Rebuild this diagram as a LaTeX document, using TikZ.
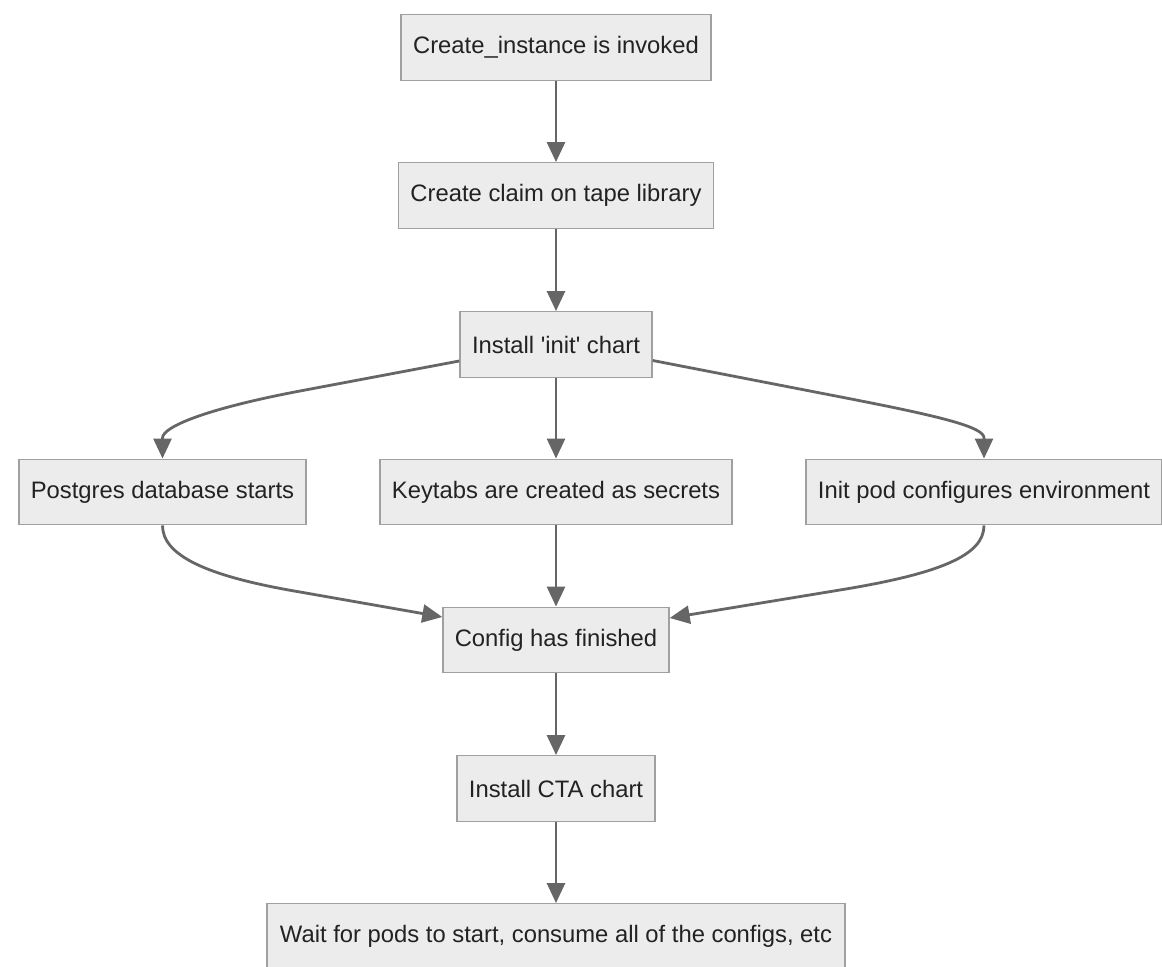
\documentclass[tikz,border=0pt]{standalone}
\usepackage{fontspec}
\setmainfont{Liberation Sans}
\usetikzlibrary{arrows.meta,calc}
\definecolor{boxfill}{HTML}{ECECEC}
\definecolor{boxline}{HTML}{A0A0A0}
\definecolor{edgecol}{HTML}{666666}
\definecolor{txt}{HTML}{222222}
\begin{document}
\begin{tikzpicture}[x=0.5pt,y=-0.5pt,
  box/.style={draw=boxline, line width=0.7pt, fill=boxfill, text=txt,
    font=\fontsize{11.9}{14}\selectfont, minimum height=32.75pt, inner sep=0pt},
  edge/.style={draw=edgecol, line width=1.4pt, -{Triangle[length=10pt,width=9pt]}}]
\useasboundingbox[fill=white] (0,0) rectangle (1162,967);
\node[box, minimum width=155pt]   (n1)   at (556,47.5)  {Create\_instance is invoked};
\node[box, minimum width=157.5pt] (n2)   at (556,195.5) {Create claim on tape library};
\node[box, minimum width=96pt]    (n3)   at (556,344.5) {Install \textquotesingle init\textquotesingle\ chart};
\node[box, minimum width=143.5pt] (pg)   at (162.5,492) {Postgres database starts};
\node[box, minimum width=176pt]   (kt)   at (556,492)   {Keytabs are created as secrets};
\node[box, minimum width=178pt]   (pod)  at (984,492)   {Init pod configures environment};
\node[box, minimum width=113pt]   (cfg)  at (556,640)   {Config has finished};
\node[box, minimum width=99pt]    (cta)  at (556,788.5) {Install CTA chart};
\node[box, minimum width=289pt]   (wait) at (556,936.5) {Wait for pods to start, consume all of the configs, etc};

\draw[edge] (n1) -- (n2);
\draw[edge] (n2) -- (n3);
\draw[edge] (n3) -- (kt);
\draw[edge] (kt) -- (cfg);
\draw[edge] (cfg) -- (cta);
\draw[edge] (cta) -- (wait);
\draw[edge] ($(n3.west)+(0,16.5)$) -- (300,391) .. controls (205,409) and (162.5,427) .. (162.5,438) -- (pg.north);
\draw[edge] ($(n3.east)+(0,16)$) -- (846,398) .. controls (941,416.5) and (984,427) .. (984,438) -- (pod.north);
\draw[edge] (pg.south) .. controls (162.5,555) and (205,576) .. (300,592) -- ($(cfg.west)+(0,-23)$);
\draw[edge] (pod.south) .. controls (984,555) and (941,573) .. (846,589) -- ($(cfg.east)+(0,-22)$);
\end{tikzpicture}
\end{document}
